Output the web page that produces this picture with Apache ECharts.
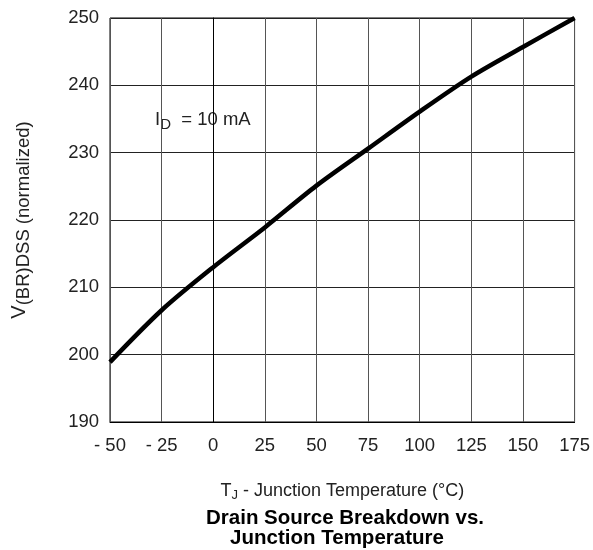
<!DOCTYPE html>
<html><head><meta charset="utf-8">
<script src="https://cdn.jsdelivr.net/npm/echarts@6/dist/echarts.min.js"></script>
<style>html,body{margin:0;padding:0;background:#fff}#c{width:593px;height:550px}</style>
</head><body><div id="c"></div>
<script>
const temps = [-50, -25, 0, 25, 50, 75, 100, 125, 150, 175];
const vbr = [198.9, 206.6, 213.0, 218.9, 225.1, 230.6, 236.1, 241.3, 245.7, 250.0];
const xTicks = {min: -50, max: 175, interval: 25};
const yTicks = {min: 190, max: 250, interval: 10};

const chart = echarts.init(document.getElementById('c'), null, {renderer: 'canvas'});
const F = 'Liberation Sans, Arial, Helvetica, sans-serif';
const txt = '#222';
chart.setOption({
  animation: false,
  backgroundColor: '#fff',
  grid: {left: 110, right: 18, top: 18, bottom: 128, show: true, borderColor: '#000', borderWidth: 1},
  xAxis: {
    type: 'value', min: xTicks.min, max: xTicks.max, interval: xTicks.interval,
    axisLine: {show: true, lineStyle: {color: '#000', width: 1}},
    axisTick: {show: false},
    splitLine: {show: true, lineStyle: {color: '#555', width: 1}},
    axisLabel: {color: txt, fontFamily: F, fontSize: 18.5, margin: 14,
      formatter: v => v < 0 ? '- ' + Math.abs(v) : String(v)},
    name: '{t|T}{s|J}{t| - Junction Temperature (°C)}',
    nameLocation: 'middle', nameGap: 58,
    nameTextStyle: {rich: {
      t: {fontFamily: F, fontSize: 18, color: txt},
      s: {fontFamily: F, fontSize: 13, color: txt, padding: [9, 0, 0, 0]}
    }}
  },
  yAxis: {
    type: 'value', min: yTicks.min, max: yTicks.max, interval: yTicks.interval,
    axisLine: {show: true, lineStyle: {color: '#000', width: 1}},
    axisTick: {show: false},
    splitLine: {show: true, lineStyle: {color: '#222', width: 1}},
    axisLabel: {color: txt, fontFamily: F, fontSize: 18.5, margin: 11},
    name: '{t|V}{s|(BR)DSS (normalized)}',
    nameLocation: 'middle', nameGap: 77,
    nameTextStyle: {rich: {
      t: {fontFamily: F, fontSize: 20, color: txt},
      s: {fontFamily: F, fontSize: 18.5, color: txt, padding: [8, 0, 0, 0]}
    }}
  },
  series: [{
    type: 'line', data: temps.map((t, i) => [t, vbr[i]]),
    smooth: 0.3, symbol: 'none',
    lineStyle: {color: '#000', width: 4.5}
  }],
  graphic: [
    {type: 'rect', left: 150, top: 106, shape: {width: 108, height: 30}, style: {fill: '#fff'}},
    {type: 'text', left: 155, top: 110, style: {
      rich: {
        t: {fontFamily: F, fontSize: 18.5, fill: txt},
        s: {fontFamily: F, fontSize: 15, fill: txt, padding: [10, 0, 0, 0]}
      },
      text: '{t|I}{s|D}{t|  = 10 mA}'
    }},
    {type: 'text', x: 345, y: 518, style: {text: 'Drain Source Breakdown vs.', fontFamily: F, fontSize: 20.5, fontWeight: 'bold', fill: '#000', align: 'center', verticalAlign: 'middle'}},
    {type: 'text', x: 337, y: 538, style: {text: 'Junction Temperature', fontFamily: F, fontSize: 20.5, fontWeight: 'bold', fill: '#000', align: 'center', verticalAlign: 'middle'}}
  ]
});
</script></body></html>
